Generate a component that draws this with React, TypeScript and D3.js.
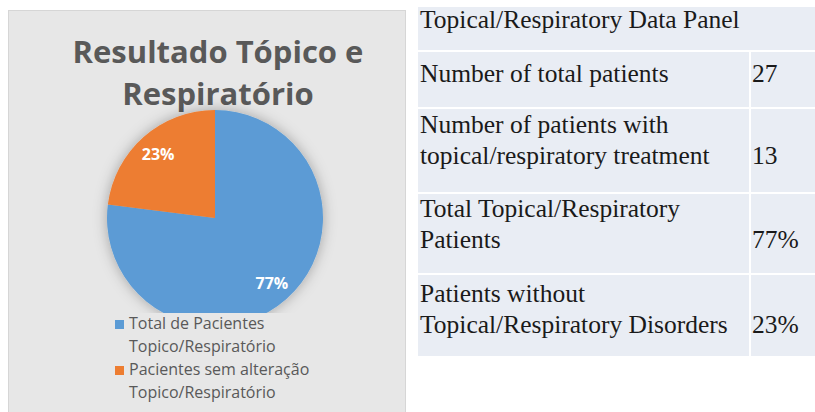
import React from "react";
import * as d3 from "d3";

const titleLines = ["Resultado Tópico e", "Respiratório"];
const categories = ["Total de Pacientes Topico/Respiratório", "Pacientes sem alteração Topico/Respiratório"];
const legendLines = [["Total de Pacientes", "Topico/Respiratório"], ["Pacientes sem alteração", "Topico/Respiratório"]];
const seriesValues = [77, 23];
const colors = ["#5b9bd5", "#ed7d31"];

const tableTitle = "Topical/Respiratory Data Panel";
const tableLabels = [
  ["Number of total patients"],
  ["Number of patients with", "topical/respiratory treatment"],
  ["Total Topical/Respiratory", "Patients"],
  ["Patients without", "Topical/Respiratory Disorders"],
];
const tableValues = ["27", "13", "77%", "23%"];

export default function App() {
  const cx = 215, cy = 218, r = 108;
  const pie = d3.pie<number>().sort(null).value((d) => d)(seriesValues);
  const arc = d3.arc<d3.PieArcDatum<number>>().innerRadius(0).outerRadius(r);
  const labelArc = d3.arc<d3.PieArcDatum<number>>().innerRadius(86).outerRadius(86);
  const total = d3.sum(seriesValues);

  // table layout
  const rowEdges = [7, 50, 107, 192, 273, 356];
  const firstBaselines = [82, 133, 217, 302];
  const lineH = 31;
  const tx = 420, vx = 752, colX = 749, tableLeft = 418;
  const serif = "'Liberation Serif', 'Times New Roman', serif";
  const sans = "'Open Sans', 'Noto Sans', sans-serif";
  const tfs = 25.5;

  return (
    <div style={{ position: "fixed", left: 0, top: 0 }}>
      <svg width={815} height={412} style={{ display: "block", background: "#fff" }}>
        <defs>
          <filter id="sh" x="-30%" y="-30%" width="160%" height="160%">
            <feDropShadow dx="0" dy="0" stdDeviation="7" floodColor="#000" floodOpacity="0.3" />
          </filter>
          <clipPath id="plotClip">
            <rect x={8} y={10} width={398} height={303} />
          </clipPath>
        </defs>
        {/* left chart panel */}
        <rect x={8.5} y={10.5} width={397} height={410} fill="#e7e7e7" stroke="#d6d6d6" />
        {titleLines.map((t, i) => (
          <text key={i} x={218} y={63 + i * 42} textAnchor="middle" fontFamily={sans} fontWeight={700}
            fontSize={31} fill="#595959">{t}</text>
        ))}
        <g clipPath="url(#plotClip)">
          <g transform={`translate(${cx},${cy})`} filter="url(#sh)">
            {pie.map((d, i) => (
              <path key={i} d={arc(d) || ""} fill={colors[i]} />
            ))}
          </g>
        </g>
        <g transform={`translate(${cx},${cy})`}>
          {pie.map((d, i) => {
            const [lx, ly] = labelArc.centroid(d);
            return (
              <text key={i} x={lx} y={ly + 6} textAnchor="middle" fontFamily={sans} fontWeight={700}
                fontSize={16} fill="#fff">{Math.round((d.value / total) * 100)}%</text>
            );
          })}
        </g>
        {legendLines.map((lines, i) => (
          <g key={i} aria-label={categories[i]}>
            <rect x={115} y={320 + i * 46} width={9} height={9} fill={colors[i]} />
            {lines.map((l, j) => (
              <text key={j} x={129} y={329 + i * 46 + j * 23} fontFamily={sans} fontSize={16} fill="#595959">{l}</text>
            ))}
          </g>
        ))}

        {/* right table */}
        <rect x={tableLeft} y={rowEdges[0]} width={815 - tableLeft} height={rowEdges[5] - rowEdges[0]} fill="#e9edf4" />
        {rowEdges.slice(1, 5).map((y, i) => (
          <rect key={i} x={tableLeft} y={y} width={815 - tableLeft} height={2} fill="#ffffff" />
        ))}
        <rect x={colX} y={rowEdges[1] + 2} width={2} height={rowEdges[5] - rowEdges[1] - 2} fill="#ffffff" />
        <text x={tx} y={28} fontFamily={serif} fontSize={tfs} fill="#1a1a1a">{tableTitle}</text>
        {tableLabels.map((lines, i) => (
          <g key={i}>
            {lines.map((l, j) => (
              <text key={j} x={tx} y={firstBaselines[i] + j * lineH} fontFamily={serif} fontSize={tfs} fill="#1a1a1a">{l}</text>
            ))}
            <text x={vx} y={firstBaselines[i] + (lines.length - 1) * lineH} fontFamily={serif} fontSize={tfs} fill="#1a1a1a">{tableValues[i]}</text>
          </g>
        ))}
      </svg>
    </div>
  );
}
